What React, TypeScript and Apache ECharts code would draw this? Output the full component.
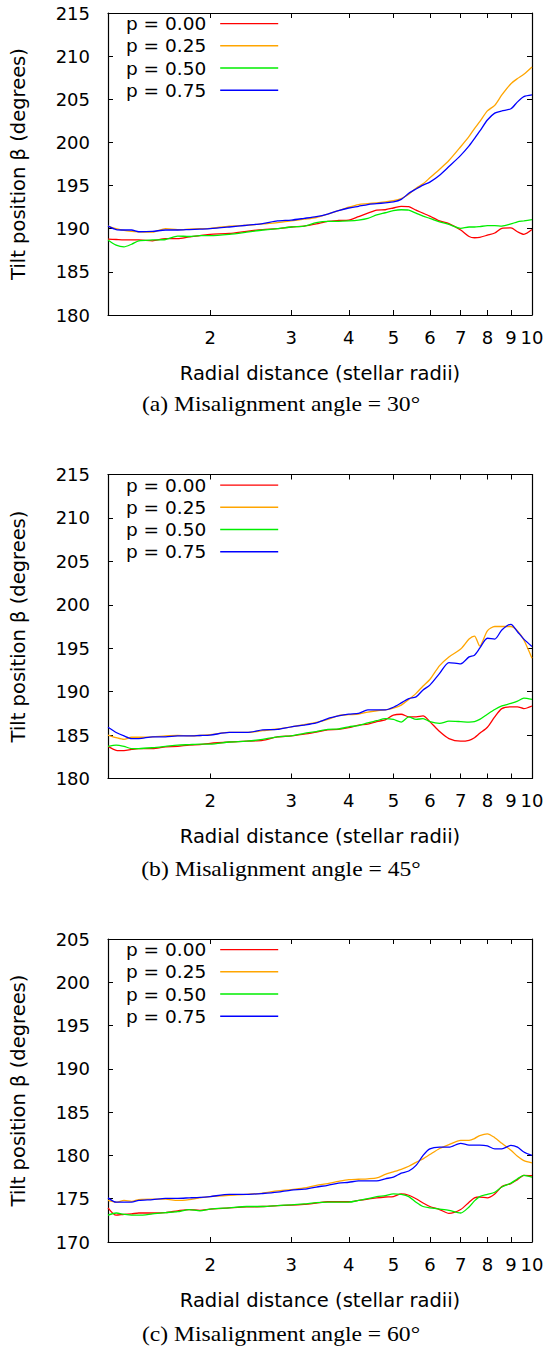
import React, { useEffect, useRef } from "react";
import * as echarts from "echarts";

// Radial distance (stellar radii) sample points shared by all curves
const radius = [1.2, 1.25, 1.3, 1.35, 1.4, 1.5, 1.6, 1.7, 1.8, 1.9, 2, 2.2, 2.4, 2.6, 2.8, 3, 3.2, 3.4, 3.6, 3.8, 4, 4.2, 4.4, 4.6, 4.8, 5, 5.2, 5.4, 5.6, 5.8, 6, 6.3, 6.6, 7, 7.3, 7.5, 7.7, 8, 8.3, 8.6, 9, 9.3, 9.6, 10];
const xTickValues = [2, 3, 4, 5, 6, 7, 8, 9, 10];
const seriesNames = ["p = 0.00", "p = 0.25", "p = 0.50", "p = 0.75"];
const captions = ["(a) Misalignment angle = 30°", "(b) Misalignment angle = 45°", "(c) Misalignment angle = 60°"];
const yRanges = [[180, 215], [180, 215], [170, 205]];

// Misalignment 30°
const a30_p000 = [188.8, 188.75, 188.7, 188.7, 188.7, 188.6, 188.85, 188.85, 189.05, 189.2, 189.35, 189.45, 189.7, 189.9, 190.0, 190.2, 190.3, 190.55, 190.85, 190.95, 191.0, 191.4, 191.8, 192.15, 192.2, 192.4, 192.6, 192.55, 192.15, 191.8, 191.45, 190.9, 190.6, 189.85, 189.1, 188.95, 189.0, 189.25, 189.5, 190.05, 190.1, 189.65, 189.35, 189.9];
const a30_p025 = [190.3, 190.0, 189.8, 189.7, 189.65, 189.6, 190.0, 189.9, 189.95, 190.0, 190.05, 190.3, 190.4, 190.55, 190.7, 190.9, 191.1, 191.3, 191.7, 192.1, 192.5, 192.8, 192.9, 193.0, 193.1, 193.25, 193.5, 194.0, 194.7, 195.2, 195.9, 196.9, 197.9, 199.5, 200.7, 201.6, 202.4, 203.65, 204.3, 205.5, 206.8, 207.4, 207.9, 208.75];
const a30_p050 = [188.7, 188.1, 187.9, 188.2, 188.6, 188.7, 188.75, 189.15, 189.1, 189.2, 189.2, 189.35, 189.6, 189.85, 190.0, 190.2, 190.3, 190.7, 190.85, 190.85, 190.9, 191.0, 191.2, 191.6, 191.85, 192.1, 192.2, 192.15, 191.8, 191.45, 191.2, 190.8, 190.5, 190.05, 190.2, 190.2, 190.25, 190.35, 190.35, 190.3, 190.55, 190.8, 190.9, 191.05];
const a30_p075 = [190.3, 189.9, 189.85, 189.85, 189.65, 189.7, 189.85, 189.85, 189.9, 189.95, 190.0, 190.2, 190.4, 190.6, 190.9, 191.0, 191.2, 191.4, 191.7, 192.1, 192.4, 192.6, 192.8, 192.9, 193.0, 193.1, 193.4, 194.1, 194.6, 195.05, 195.4, 196.2, 197.2, 198.5, 199.6, 200.45, 201.3, 202.6, 203.4, 203.65, 203.9, 204.7, 205.3, 205.5];

// Misalignment 45°
const a45_p000 = [183.7, 183.25, 183.2, 183.35, 183.45, 183.45, 183.65, 183.7, 183.85, 183.9, 184.05, 184.2, 184.3, 184.4, 184.8, 184.9, 185.1, 185.35, 185.6, 185.65, 185.85, 186.15, 186.25, 186.55, 186.75, 187.3, 187.4, 187.1, 187.1, 187.2, 186.55, 185.4, 184.6, 184.3, 184.4, 184.7, 185.2, 185.9, 187.1, 188.05, 188.25, 188.25, 188.05, 188.35];
const a45_p025 = [185.0, 184.7, 184.5, 184.75, 184.75, 184.8, 184.9, 184.95, 184.9, 184.95, 185.05, 185.3, 185.3, 185.5, 185.7, 185.95, 186.2, 186.45, 186.8, 187.25, 187.35, 187.4, 187.65, 187.8, 187.9, 188.1, 188.45, 189.1, 189.8, 190.65, 191.4, 193.0, 194.0, 194.9, 196.05, 196.4, 195.25, 197.0, 197.5, 197.5, 197.5, 197.0, 195.95, 193.85];
const a45_p050 = [183.7, 183.85, 183.7, 183.45, 183.45, 183.55, 183.7, 183.85, 183.9, 183.95, 183.95, 184.2, 184.3, 184.5, 184.8, 184.9, 185.2, 185.4, 185.65, 185.7, 185.95, 186.1, 186.4, 186.65, 186.9, 186.8, 186.5, 187.1, 186.8, 186.9, 186.55, 186.35, 186.6, 186.55, 186.5, 186.55, 186.8, 187.4, 187.95, 188.35, 188.65, 188.9, 189.25, 189.1];
const a45_p075 = [185.9, 185.3, 184.9, 184.6, 184.6, 184.8, 184.8, 184.9, 184.9, 184.95, 185.0, 185.3, 185.3, 185.6, 185.65, 185.95, 186.15, 186.4, 186.9, 187.2, 187.4, 187.5, 187.9, 187.9, 187.9, 188.2, 188.7, 189.2, 189.4, 190.2, 190.75, 192.1, 193.35, 193.2, 194.0, 194.2, 195.0, 196.15, 196.05, 197.1, 197.75, 196.9, 196.05, 195.2];

// Misalignment 60°
const a60_p000 = [173.95, 173.1, 173.2, 173.25, 173.35, 173.35, 173.4, 173.6, 173.75, 173.65, 173.8, 173.95, 174.05, 174.1, 174.2, 174.25, 174.35, 174.5, 174.65, 174.65, 174.65, 174.8, 174.95, 175.1, 175.2, 175.25, 175.55, 175.4, 175.0, 174.5, 174.1, 173.75, 173.3, 173.75, 174.6, 175.1, 175.2, 175.1, 175.55, 176.4, 176.75, 177.2, 177.7, 177.65];
const a60_p025 = [174.8, 174.6, 174.8, 174.7, 174.9, 174.95, 174.95, 174.8, 174.9, 175.1, 175.25, 175.4, 175.5, 175.65, 175.9, 176.05, 176.25, 176.55, 176.75, 177.0, 177.2, 177.25, 177.3, 177.4, 177.8, 178.1, 178.4, 178.75, 179.2, 179.6, 180.1, 180.8, 181.25, 181.75, 181.75, 181.95, 182.3, 182.5, 182.05, 181.4, 180.6, 179.9, 179.4, 179.15];
const a60_p050 = [173.1, 173.35, 173.2, 173.1, 173.1, 173.25, 173.4, 173.5, 173.75, 173.6, 173.8, 173.95, 174.1, 174.1, 174.2, 174.3, 174.4, 174.55, 174.6, 174.6, 174.6, 174.8, 175.0, 175.25, 175.35, 175.55, 175.5, 175.25, 174.6, 174.1, 173.95, 173.8, 173.65, 173.35, 174.05, 174.75, 175.25, 175.5, 175.75, 176.35, 176.8, 177.3, 177.7, 177.5];
const a60_p075 = [175.1, 174.6, 174.6, 174.6, 174.8, 174.9, 175.05, 175.05, 175.1, 175.15, 175.25, 175.5, 175.5, 175.6, 175.75, 176.0, 176.1, 176.35, 176.55, 176.8, 176.9, 177.05, 177.05, 177.05, 177.3, 177.5, 177.95, 178.2, 178.85, 180.0, 180.75, 180.95, 180.95, 181.4, 181.2, 181.2, 181.2, 181.1, 180.75, 180.75, 181.15, 180.95, 180.4, 180.0];

const panelSeries = [
  [a30_p000, a30_p025, a30_p050, a30_p075],
  [a45_p000, a45_p025, a45_p050, a45_p075],
  [a60_p000, a60_p025, a60_p050, a60_p075],
];

// layout (pixels)
const GRID_LEFT = 108;
const GRID_WIDTH = 424;
const gridTops = [13, 474.5, 939];
const gridHeights = [302, 304, 303];
const captionYs = [405, 870, 1335];
const COLORS = ["#ff0000", "#ffa500", "#00ee00", "#0000ff"];
const SANS = "DejaVu Sans";
const SERIF = "Liberation Serif";

function buildOption(): any {
  const grid: any[] = [];
  const xAxis: any[] = [];
  const yAxis: any[] = [];
  const series: any[] = [];
  const legend: any[] = [];
  const graphic: any[] = [];
  const logTicks = xTickValues.map((v) => Math.log10(v));
  const axisLine = { show: true, onZero: false, lineStyle: { color: "#000", width: 1.2 } };

  for (let p = 0; p < 3; p++) {
    grid.push({ left: GRID_LEFT, width: GRID_WIDTH, top: gridTops[p], height: gridHeights[p], containLabel: false });
    const xMin = Math.log10(radius[0]);
    const xMax = Math.log10(radius[radius.length - 1]);
    xAxis.push({
      type: "value", gridIndex: p, position: "bottom", min: xMin, max: xMax,
      axisLine,
      axisTick: { show: true, inside: true, length: 5, customValues: logTicks, lineStyle: { color: "#000", width: 1 } },
      axisLabel: {
        show: true, customValues: logTicks, margin: 13, color: "#000", fontFamily: SANS, fontSize: 18,
        formatter: (v: number) => String(Math.round(Math.pow(10, v))),
      },
      splitLine: { show: false },
      name: "Radial distance (stellar radii)", nameLocation: "middle", nameGap: 48,
      nameTextStyle: { color: "#000", fontFamily: SANS, fontSize: 19.5 },
    });
    xAxis.push({
      type: "value", gridIndex: p, position: "top", min: xMin, max: xMax,
      axisLine,
      axisTick: { show: true, inside: true, length: 5, customValues: logTicks, lineStyle: { color: "#000", width: 1 } },
      axisLabel: { show: false },
      splitLine: { show: false },
    });
    const [yMin, yMax] = yRanges[p];
    yAxis.push({
      type: "value", gridIndex: p, position: "left", min: yMin, max: yMax, interval: 5,
      axisLine,
      axisTick: { show: true, inside: true, length: 5, lineStyle: { color: "#000", width: 1 } },
      axisLabel: { show: true, margin: 18, color: "#000", fontFamily: SANS, fontSize: 18 },
      splitLine: { show: false },
      name: "Tilt position β (degrees)", nameLocation: "middle", nameGap: 80, nameRotate: 90,
      nameTextStyle: { color: "#000", fontFamily: SANS, fontSize: 19.5 },
    });
    yAxis.push({
      type: "value", gridIndex: p, position: "right", min: yMin, max: yMax, interval: 5,
      axisLine,
      axisTick: { show: true, inside: true, length: 5, lineStyle: { color: "#000", width: 1 } },
      axisLabel: { show: false },
      splitLine: { show: false },
    });

    panelSeries[p].forEach((vals, k) => {
      series.push({
        type: "line", name: seriesNames[k], xAxisIndex: p * 2, yAxisIndex: p * 2,
        data: radius.map((r, i) => [Math.log10(r), vals[i]]),
        showSymbol: false, smooth: 0.25, color: COLORS[k],
        lineStyle: { color: COLORS[k], width: 1.3 },
        emphasis: { disabled: true },
      });
    });

    legend.push({
      data: seriesNames, orient: "vertical", align: "right", left: 126, top: gridTops[p] - 0.5,
      icon: "rect", itemWidth: 58, itemHeight: 1.4, itemGap: 0, padding: 0, selectedMode: false,
      textStyle: { color: "#000", fontFamily: SANS, fontSize: 18.5, lineHeight: 22.2, padding: [0, 9, 0, 0] },
    });

    graphic.push({
      type: "text", x: 281, y: captionYs[p], scaleX: 1.18,
      style: { text: captions[p], font: `20px "${SERIF}"`, fill: "#000", textAlign: "center", textVerticalAlign: "middle" },
    });
  }

  return { animation: false, backgroundColor: "#fff", grid, xAxis, yAxis, series, legend, graphic };
}

export default function App() {
  const ref = useRef<HTMLDivElement>(null);
  useEffect(() => {
    if (!ref.current) return;
    const chart = echarts.init(ref.current, undefined, { renderer: "svg" });
    chart.setOption(buildOption());
    return () => chart.dispose();
  }, []);
  return <div ref={ref} style={{ position: "absolute", left: 0, top: 0, width: 551, height: 1349 }} />;
}
